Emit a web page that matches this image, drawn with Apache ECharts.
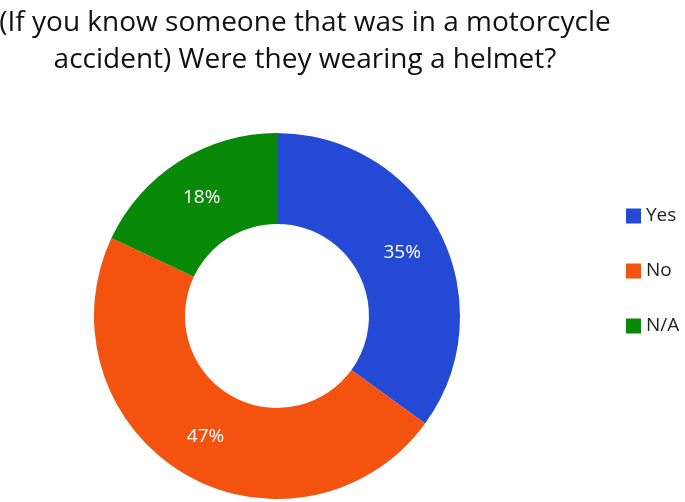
<!DOCTYPE html>
<html>
<head>
<meta charset="utf-8">
<script src="https://cdn.jsdelivr.net/npm/echarts@6/dist/echarts.min.js"></script>
<style>
html,body{margin:0;padding:0;background:#fff;}
#chart{width:685px;height:502px;}
</style>
</head>
<body>
<div id="chart"></div>
<script>
const titleLines = ["(If you know someone that was in a motorcycle", "accident) Were they wearing a helmet?"];
const categories = ["Yes", "No", "N/A"];
const values = [35, 47, 18];
const colors = ["#2349D5", "#F4520F", "#088A08"];

const chart = echarts.init(document.getElementById('chart'));
chart.setOption({
  animation: false,
  graphic: [{
    type: 'text',
    x: 305,
    y: 5,
    style: {
      text: titleLines.join("\n"),
      fontFamily: 'Open Sans',
      fontSize: 28,
      lineHeight: 37,
      fill: '#111',
      align: 'center',
      textAlign: 'center'
    }
  }],
  legend: {
    orient: 'vertical',
    left: 626,
    top: 205,
    padding: 0,
    itemWidth: 15,
    itemHeight: 15,
    itemGap: 33,
    icon: 'rect',
    textStyle: {fontFamily: 'Open Sans', fontSize: 19, color: '#222', padding: [0,0,0,0], lineHeight: 22},
    data: categories
  },
  color: colors,
  series: [{
    type: 'pie',
    center: [277, 316],
    radius: [92, 183],
    startAngle: 90,
    clockwise: true,
    label: {
      show: true,
      position: 'inside',
      formatter: p => p.value + '%',
      color: '#fff',
      fontFamily: 'Open Sans',
      fontSize: 19
    },
    labelLine: {show: false},
    itemStyle: {borderWidth: 0},
    emphasis: {disabled: true},
    data: categories.map((c, i) => ({name: c, value: values[i]}))
  }]
});
</script>
</body>
</html>
